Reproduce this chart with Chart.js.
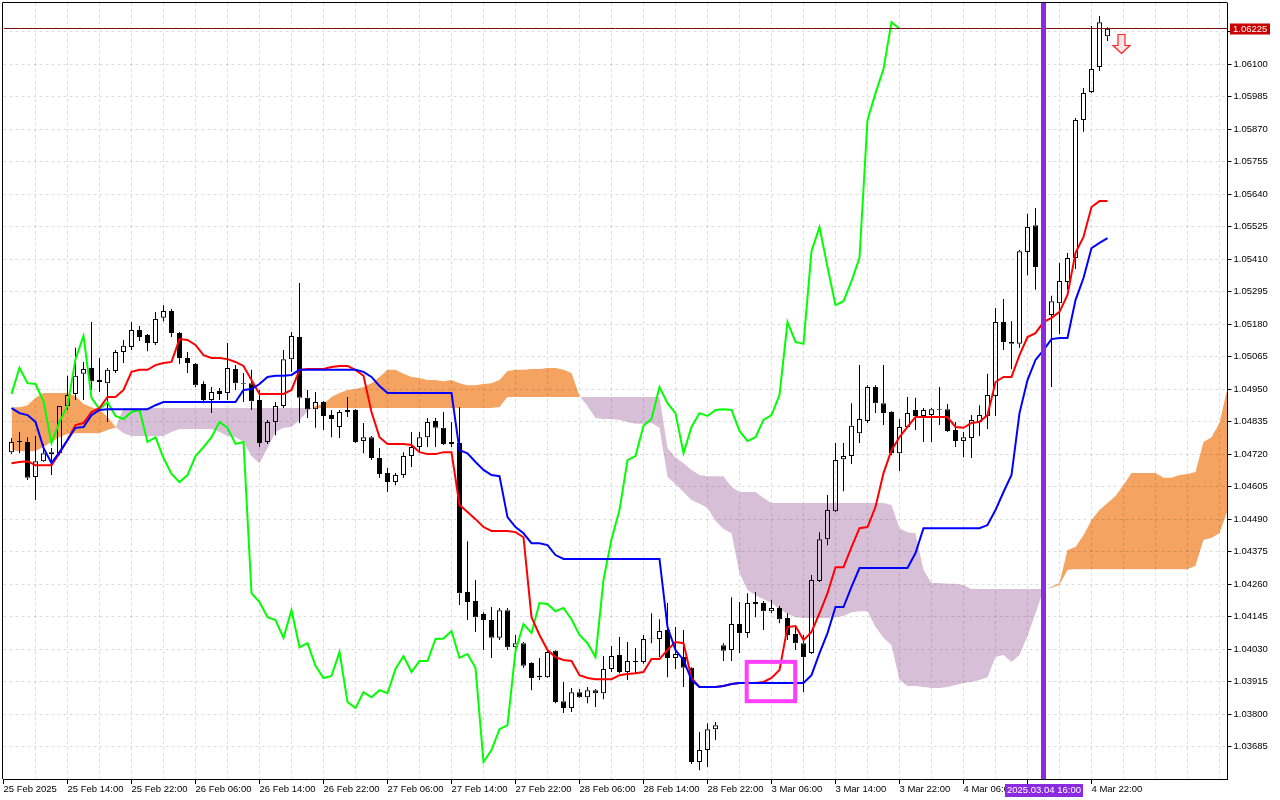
<!DOCTYPE html>
<html>
<head>
<meta charset="utf-8">
<title>EURUSD H1 - Ichimoku</title>
<script src="https://cdn.jsdelivr.net/npm/chart.js@4.4.1/dist/chart.umd.min.js"></script>
<style>
  html, body { margin: 0; padding: 0; background: #fff; }
  #wrap { width: 1280px; height: 800px; }
</style>
</head>
<body>
<div id="wrap"><canvas id="chart" width="1280" height="800"></canvas></div>
<script>
// hourly candles, bar 1 = 25 Feb 07:00 ... bar 138 = 5 Mar 00:00
const opens = [1.04727,1.04763,1.04763,1.04639,1.04695,1.04727,1.04723,1.04890,1.04933,1.05004,
  1.05025,1.04982,1.04971,1.05014,1.05081,1.05099,1.05159,1.05141,1.05113,1.05202,
  1.05226,1.05148,1.05060,1.05039,1.04968,1.04911,1.04943,1.04936,1.05021,1.04971,
  1.04971,1.04911,1.04763,1.04834,1.04890,1.05056,1.05134,1.04919,1.04879,1.04904,
  1.04858,1.04816,1.04869,1.04876,1.04766,1.04780,1.04706,1.04653,1.04621,1.04646,
  1.04713,1.04745,1.04780,1.04837,1.04813,1.04756,1.04759,1.04232,1.04200,1.04154,
  1.04133,1.04070,1.04168,1.04037,1.04051,1.03981,1.03931,1.03931,1.04024,1.03846,
  1.03822,1.03878,1.03860,1.03885,1.03874,1.03960,1.04009,1.03949,1.03985,1.03985,
  1.04066,1.04066,1.04098,1.03999,1.04002,1.03964,1.03631,1.03673,1.03747,1.04044,
  1.04027,1.04119,1.04087,1.04197,1.04193,1.04164,1.04176,1.04140,1.04084,1.04051,
  1.04016,1.04271,1.04419,1.04518,1.04702,1.04713,1.04794,1.04837,1.04957,1.04900,
  1.04869,1.04723,1.04816,1.04876,1.04855,1.04858,1.04879,1.04879,1.04805,1.04766,
  1.04777,1.04834,1.04855,1.04926,1.05187,1.05117,1.05110,1.05435,1.05530,1.05382,
  1.05212,1.05254,1.05329,1.05414,1.05902,1.06001,1.06089,1.06198];
const highs = [1.04777,1.04798,1.04780,1.04784,1.04756,1.04742,1.04890,1.04997,1.05096,1.05046,
  1.05187,1.05060,1.05025,1.05088,1.05124,1.05187,1.05173,1.05145,1.05223,1.05247,
  1.05233,1.05152,1.05081,1.05042,1.04978,1.04957,1.04954,1.05113,1.05035,1.05007,
  1.05018,1.04947,1.04841,1.04904,1.05088,1.05152,1.05325,1.04947,1.04940,1.04907,
  1.04876,1.04876,1.04922,1.04879,1.04830,1.04784,1.04742,1.04671,1.04653,1.04727,
  1.04798,1.04798,1.04848,1.04848,1.04869,1.04834,1.04886,1.04412,1.04275,1.04161,
  1.04179,1.04176,1.04176,1.04080,1.04055,1.03984,1.03999,1.04027,1.04027,1.03914,
  1.03893,1.03889,1.03896,1.03889,1.04006,1.04041,1.04073,1.04055,1.04034,1.04080,
  1.04157,1.04136,1.04193,1.04108,1.04098,1.03967,1.03737,1.03768,1.03772,1.04051,
  1.04214,1.04197,1.04228,1.04232,1.04200,1.04204,1.04183,1.04157,1.04108,1.04080,
  1.04292,1.04444,1.04575,1.04759,1.04759,1.04900,1.05035,1.04964,1.04964,1.05035,
  1.04872,1.04844,1.04922,1.04919,1.04883,1.04883,1.04957,1.04897,1.04834,1.04798,
  1.04858,1.04893,1.05004,1.05237,1.05269,1.05190,1.05442,1.05570,1.05591,1.05400,
  1.05280,1.05396,1.05431,1.05909,1.06015,1.06234,1.06270,1.06230];
const lows = [1.04720,1.04723,1.04628,1.04558,1.04692,1.04646,1.04716,1.04876,1.04911,1.04911,
  1.04947,1.04940,1.04834,1.05007,1.05042,1.05088,1.05120,1.05084,1.05106,1.05190,
  1.05134,1.05039,1.05007,1.04957,1.04900,1.04865,1.04911,1.04911,1.04947,1.04904,
  1.04876,1.04745,1.04756,1.04787,1.04883,1.05011,1.04830,1.04848,1.04813,1.04805,
  1.04780,1.04777,1.04851,1.04759,1.04723,1.04699,1.04636,1.04586,1.04610,1.04636,
  1.04674,1.04727,1.04745,1.04745,1.04752,1.04745,1.04186,1.04133,1.04091,1.04027,
  1.03999,1.04062,1.04027,1.04027,1.03964,1.03885,1.03921,1.03928,1.03839,1.03804,
  1.03808,1.03857,1.03839,1.03825,1.03853,1.03949,1.03945,1.03921,1.03945,1.03978,
  1.04051,1.04002,1.03931,1.03960,1.03896,1.03624,1.03602,1.03613,1.03709,1.03988,
  1.03988,1.04016,1.04070,1.04143,1.04098,1.04157,1.04122,1.04062,1.04027,1.03878,
  1.04013,1.04268,1.04398,1.04515,1.04589,1.04685,1.04759,1.04830,1.04865,1.04823,
  1.04716,1.04660,1.04813,1.04805,1.04763,1.04763,1.04823,1.04798,1.04745,1.04709,
  1.04706,1.04784,1.04809,1.04855,1.05088,1.05021,1.05096,1.05353,1.05301,1.05230,
  1.04957,1.05145,1.05301,1.05375,1.05860,1.05997,1.06075,1.06181];
const closes = [1.04763,1.04766,1.04636,1.04695,1.04723,1.04720,1.04890,1.04929,1.04997,1.05021,
  1.04978,1.04975,1.05018,1.05081,1.05103,1.05159,1.05134,1.05113,1.05198,1.05226,
  1.05148,1.05060,1.05042,1.04964,1.04911,1.04940,1.04933,1.05025,1.04971,1.04968,
  1.04907,1.04759,1.04834,1.04890,1.05056,1.05138,1.04919,1.04879,1.04904,1.04855,
  1.04844,1.04869,1.04876,1.04763,1.04780,1.04706,1.04650,1.04621,1.04646,1.04713,
  1.04745,1.04780,1.04834,1.04813,1.04756,1.04763,1.04228,1.04197,1.04143,1.04133,
  1.04070,1.04168,1.04037,1.04051,1.03971,1.03928,1.03935,1.04020,1.03843,1.03822,
  1.03878,1.03860,1.03885,1.03874,1.03960,1.04006,1.03949,1.03988,1.03988,1.04066,
  1.04068,1.04094,1.03999,1.04013,1.03964,1.03631,1.03673,1.03747,1.03761,1.04024,
  1.04119,1.04087,1.04193,1.04190,1.04164,1.04176,1.04136,1.04080,1.04051,1.04002,
  1.04275,1.04419,1.04522,1.04699,1.04713,1.04820,1.04844,1.04957,1.04900,1.04865,
  1.04723,1.04816,1.04865,1.04855,1.04876,1.04879,1.04876,1.04802,1.04766,1.04780,
  1.04841,1.04858,1.04929,1.05187,1.05117,1.05110,1.05438,1.05523,1.05382,1.05247,
  1.05261,1.05332,1.05414,1.05902,1.05997,1.06082,1.06248,1.06225];

// Ichimoku lines
const tenkan = [1.04688,1.04692,1.04695,1.04681,1.04681,1.04681,1.04723,1.04770,1.04823,1.04830,
  1.04869,1.04883,1.04922,1.04922,1.04947,1.05011,1.05018,1.05018,1.05035,1.05042,
  1.05046,1.05127,1.05124,1.05106,1.05070,1.05060,1.05060,1.05056,1.05046,1.05032,
  1.04982,1.04933,1.04933,1.04933,1.04933,1.04947,1.05018,1.05021,1.05021,1.05021,
  1.05028,1.05032,1.05032,1.05018,1.04997,1.04869,1.04780,1.04756,1.04756,1.04756,
  1.04752,1.04727,1.04720,1.04720,1.04727,1.04727,1.04540,1.04515,1.04490,1.04462,
  1.04448,1.04448,1.04448,1.04444,1.04426,1.04143,1.04080,1.04027,1.04002,1.03992,
  1.03988,1.03938,1.03928,1.03924,1.03924,1.03924,1.03938,1.03942,1.03945,1.03949,
  1.03995,1.03995,1.04027,1.04055,1.04051,1.03928,1.03896,1.03896,1.03896,1.03900,
  1.03907,1.03910,1.03910,1.03910,1.03914,1.03928,1.03956,1.04108,1.04112,1.04062,
  1.04091,1.04157,1.04228,1.04320,1.04320,1.04391,1.04458,1.04462,1.04533,1.04653,
  1.04734,1.04780,1.04816,1.04851,1.04851,1.04851,1.04851,1.04851,1.04816,1.04813,
  1.04830,1.04834,1.04858,1.04975,1.04993,1.04993,1.05070,1.05134,1.05148,1.05187,
  1.05202,1.05223,1.05283,1.05432,1.05488,1.05594,1.05615,1.05615];
const kijun = [1.04883,1.04865,1.04858,1.04834,1.04742,1.04688,1.04727,1.04770,1.04813,1.04816,
  1.04858,1.04876,1.04879,1.04879,1.04879,1.04879,1.04879,1.04879,1.04893,1.04904,
  1.04904,1.04904,1.04904,1.04904,1.04904,1.04904,1.04904,1.04904,1.04904,1.04947,
  1.04950,1.04968,1.04993,1.04997,1.04997,1.05000,1.05018,1.05018,1.05018,1.05018,
  1.05018,1.05018,1.05018,1.05018,1.05011,1.04993,1.04961,1.04936,1.04936,1.04936,
  1.04936,1.04936,1.04936,1.04936,1.04936,1.04936,1.04734,1.04723,1.04692,1.04664,
  1.04646,1.04642,1.04497,1.04462,1.04440,1.04405,1.04405,1.04398,1.04363,1.04349,
  1.04349,1.04349,1.04349,1.04349,1.04349,1.04349,1.04349,1.04349,1.04349,1.04349,
  1.04349,1.04349,1.04108,1.04027,1.03992,1.03921,1.03896,1.03896,1.03896,1.03900,
  1.03907,1.03910,1.03910,1.03910,1.03910,1.03910,1.03910,1.03910,1.03910,1.03910,
  1.03938,1.04016,1.04087,1.04179,1.04179,1.04250,1.04317,1.04317,1.04317,1.04317,
  1.04317,1.04317,1.04317,1.04370,1.04458,1.04458,1.04458,1.04458,1.04458,1.04458,
  1.04458,1.04458,1.04469,1.04522,1.04586,1.04646,1.04865,1.04982,1.05053,1.05088,
  1.05127,1.05131,1.05131,1.05265,1.05343,1.05449,1.05467,1.05484];
const chikou = [1.04933,1.05025,1.04971,1.04968,1.04907,1.04759,1.04834,1.04890,1.05056,1.05138,
  1.04919,1.04879,1.04904,1.04855,1.04844,1.04869,1.04876,1.04763,1.04780,1.04706,
  1.04650,1.04621,1.04646,1.04713,1.04745,1.04780,1.04834,1.04813,1.04756,1.04763,
  1.04228,1.04197,1.04143,1.04133,1.04070,1.04168,1.04037,1.04051,1.03971,1.03928,
  1.03935,1.04020,1.03843,1.03822,1.03878,1.03860,1.03885,1.03874,1.03960,1.04006,
  1.03949,1.03988,1.03988,1.04066,1.04068,1.04094,1.03999,1.04013,1.03964,1.03631,
  1.03673,1.03747,1.03761,1.04024,1.04119,1.04087,1.04193,1.04190,1.04164,1.04176,
  1.04136,1.04080,1.04051,1.04002,1.04275,1.04419,1.04522,1.04699,1.04713,1.04820,
  1.04844,1.04957,1.04900,1.04865,1.04723,1.04816,1.04865,1.04855,1.04876,1.04879,
  1.04876,1.04802,1.04766,1.04780,1.04841,1.04858,1.04929,1.05187,1.05117,1.05110,
  1.05438,1.05523,1.05382,1.05247,1.05261,1.05332,1.05414,1.05902,1.05997,1.06082,
  1.06248,1.06225];
const spanA = [1.04886,1.04886,1.04893,1.04919,1.04936,1.04936,1.04936,1.04936,1.04926,1.04897,
  1.04886,1.04879,1.04851,1.04816,1.04794,1.04784,1.04784,1.04784,1.04784,1.04784,
  1.04798,1.04809,1.04809,1.04809,1.04809,1.04809,1.04798,1.04784,1.04780,1.04763,
  1.04713,1.04688,1.04742,1.04798,1.04813,1.04816,1.04841,1.04872,1.04890,1.04897,
  1.04922,1.04936,1.04947,1.04950,1.04957,1.04971,1.04993,1.05018,1.05018,1.05004,
  1.04993,1.04989,1.04982,1.04982,1.04978,1.04982,1.04971,1.04964,1.04964,1.04968,
  1.04971,1.04982,1.05014,1.05018,1.05018,1.05021,1.05021,1.05025,1.05025,1.05018,
  1.05007,1.04926,1.04890,1.04848,1.04844,1.04844,1.04841,1.04834,1.04827,1.04827,
  1.04830,1.04813,1.04639,1.04614,1.04586,1.04558,1.04544,1.04530,1.04483,1.04455,
  1.04440,1.04299,1.04239,1.04221,1.04207,1.04193,1.04172,1.04154,1.04143,1.04140,
  1.04140,1.04140,1.04140,1.04143,1.04147,1.04161,1.04164,1.04164,1.04108,1.04070,
  1.04044,1.03921,1.03900,1.03900,1.03896,1.03893,1.03893,1.03896,1.03903,1.03910,
  1.03914,1.03921,1.03931,1.04002,1.04009,1.03985,1.04009,1.04077,1.04157,1.04239,
  1.04250,1.04264,1.04381,1.04391,1.04433,1.04487,1.04522,1.04547,1.04572,1.04611,
  1.04653,1.04653,1.04653,1.04653,1.04636,1.04636,1.04646,1.04650,1.04657,1.04763,
  1.04780,1.04830,1.04954];
const spanB = [1.04734,1.04730,1.04730,1.04730,1.04745,1.04763,1.04780,1.04791,1.04794,1.04794,
  1.04794,1.04794,1.04805,1.04813,1.04883,1.04883,1.04883,1.04883,1.04883,1.04883,
  1.04883,1.04883,1.04883,1.04883,1.04883,1.04883,1.04883,1.04883,1.04883,1.04883,
  1.04883,1.04883,1.04883,1.04883,1.04883,1.04883,1.04883,1.04883,1.04883,1.04883,
  1.04883,1.04883,1.04883,1.04883,1.04883,1.04883,1.04883,1.04883,1.04883,1.04883,
  1.04883,1.04883,1.04883,1.04883,1.04883,1.04883,1.04883,1.04883,1.04883,1.04883,
  1.04883,1.04886,1.04922,1.04922,1.04922,1.04922,1.04922,1.04922,1.04922,1.04922,
  1.04922,1.04922,1.04922,1.04922,1.04922,1.04922,1.04922,1.04922,1.04922,1.04922,
  1.04922,1.04922,1.04742,1.04709,1.04688,1.04664,1.04646,1.04642,1.04642,1.04642,
  1.04604,1.04586,1.04586,1.04586,1.04565,1.04547,1.04547,1.04547,1.04547,1.04547,
  1.04547,1.04547,1.04547,1.04547,1.04547,1.04547,1.04547,1.04547,1.04547,1.04547,
  1.04540,1.04458,1.04444,1.04440,1.04310,1.04264,1.04264,1.04261,1.04261,1.04257,
  1.04243,1.04243,1.04243,1.04243,1.04243,1.04243,1.04243,1.04243,1.04243,1.04243,
  1.04246,1.04257,1.04310,1.04313,1.04313,1.04313,1.04313,1.04313,1.04313,1.04313,
  1.04313,1.04313,1.04313,1.04313,1.04313,1.04313,1.04313,1.04313,1.04324,1.04416,
  1.04423,1.04440,1.04518];

// axis labels
const timeLabels = ['25 Feb 2025', '25 Feb 14:00', '25 Feb 22:00', '26 Feb 06:00', '26 Feb 14:00',
  '26 Feb 22:00', '27 Feb 06:00', '27 Feb 14:00', '27 Feb 22:00', '28 Feb 06:00', '28 Feb 14:00',
  '28 Feb 22:00', '3 Mar 06:00', '3 Mar 14:00', '3 Mar 22:00', '4 Mar 06:00', '4 Mar 14:00', '4 Mar 22:00'];
const priceTicks = [1.03685, 1.03800, 1.03915, 1.04030, 1.04145, 1.04260, 1.04375, 1.04490,
  1.04605, 1.04720, 1.04835, 1.04950, 1.05065, 1.05180, 1.05295, 1.05410, 1.05525, 1.05640,
  1.05755, 1.05870, 1.05985, 1.06100, 1.06215];

const lastPrice = 1.06225;
const markerBar = 130;
const markerText = '2025.03.04 16:00';
// user drawn box and sell arrow (bar index / price)
const boxBars = [92.9, 98.96];
const boxPrices = [1.03985, 1.03846];
const arrowBar = 139.8;
const arrowPrice = 1.06206;

const N = 154; // bars on screen incl. the cloud shifted forward
const FONT = { family: 'Liberation Sans, Arial, sans-serif', size: 9.5 };

function pad(arr, fill) {
  const out = new Array(N).fill(fill === undefined ? null : fill);
  arr.forEach(function (v, k) { out[k + 1] = v; });
  return out;
}

const labels = Array.from({ length: N }, function (_, i) {
  return (i % 8 === 0 && timeLabels[i / 8]) || '';
});

const bodies = pad(opens.map(function (o, k) { return [o, closes[k]]; }));
const upperWicks = pad(highs.map(function (h, k) { return [Math.max(opens[k], closes[k]), h]; }));
const lowerWicks = pad(lows.map(function (l, k) { return [l, Math.min(opens[k], closes[k])]; }));
const bodyColors = pad(opens.map(function (o, k) {
  return closes[k] >= o ? 'rgba(0,0,0,0)' : '#000000';
}), 'rgba(0,0,0,0)');

function drawGrid(chart) {
  const { ctx, chartArea: a, scales: { x, y } } = chart;
  ctx.save();
  ctx.strokeStyle = 'rgba(0,0,0,0.13)';
  ctx.lineWidth = 1;
  ctx.setLineDash([3, 3]);
  ctx.beginPath();
  for (let i = 4; i < N; i += 4) {
    const px = Math.floor(x.getPixelForValue(i)) + 0.5;
    ctx.moveTo(px, a.top);
    ctx.lineTo(px, a.bottom);
  }
  priceTicks.forEach(function (v) {
    const py = Math.floor(y.getPixelForValue(v)) + 0.5;
    ctx.moveTo(a.left, py);
    ctx.lineTo(a.right, py);
  });
  ctx.stroke();
  ctx.restore();
}

const overlay = {
  id: 'overlay',
  afterDatasetDraw(chart, args) {
    // grid sits on top of the cloud but under the candles
    if (args.index === 1) drawGrid(chart);
  },
  afterDatasetsDraw(chart) {
    const { ctx, chartArea: a, scales: { x, y } } = chart;
    ctx.save();
    ctx.beginPath();
    ctx.rect(a.left, a.top, a.right - a.left, a.bottom - a.top);
    ctx.clip();

    // last price line
    const py = Math.floor(y.getPixelForValue(lastPrice)) + 0.5;
    ctx.strokeStyle = '#7A1414';
    ctx.lineWidth = 1;
    ctx.beginPath();
    ctx.moveTo(a.left, py);
    ctx.lineTo(a.right, py);
    ctx.stroke();

    // magenta rectangle
    const rx1 = x.getPixelForValue(boxBars[0]);
    const rx2 = x.getPixelForValue(boxBars[1]);
    const ry1 = y.getPixelForValue(boxPrices[0]);
    const ry2 = y.getPixelForValue(boxPrices[1]);
    ctx.strokeStyle = '#FF40FF';
    ctx.lineWidth = 4;
    ctx.strokeRect(rx1, ry1, rx2 - rx1, ry2 - ry1);

    // sell arrow
    const ax = Math.floor(x.getPixelForValue(arrowBar)) + 0.5;
    const ay = Math.floor(y.getPixelForValue(arrowPrice)) + 0.5;
    ctx.beginPath();
    ctx.moveTo(ax - 3.5, ay);
    ctx.lineTo(ax + 3.5, ay);
    ctx.lineTo(ax + 3.5, ay + 11);
    ctx.lineTo(ax + 8.5, ay + 11);
    ctx.lineTo(ax, ay + 19);
    ctx.lineTo(ax - 8.5, ay + 11);
    ctx.lineTo(ax - 3.5, ay + 11);
    ctx.closePath();
    ctx.fillStyle = '#FFE6E6';
    ctx.fill();
    ctx.strokeStyle = '#FF2020';
    ctx.lineWidth = 1.2;
    ctx.stroke();

    // vertical marker line
    const mx = x.getPixelForValue(markerBar);
    ctx.strokeStyle = '#8A2BE2';
    ctx.lineWidth = 5;
    ctx.beginPath();
    ctx.moveTo(mx, a.top);
    ctx.lineTo(mx, a.bottom);
    ctx.stroke();
    ctx.restore();

    // frame (left and top; right/bottom come from the axes)
    ctx.save();
    ctx.strokeStyle = '#000';
    ctx.lineWidth = 1;
    ctx.beginPath();
    ctx.moveTo(2.5, a.bottom);
    ctx.lineTo(2.5, a.top - 0.5);
    ctx.lineTo(a.right, a.top - 0.5);
    ctx.stroke();
    ctx.restore();
  },
  afterDraw(chart) {
    const { ctx, chartArea: a, scales: { x, y } } = chart;
    ctx.save();
    ctx.font = FONT.size + 'px ' + FONT.family;
    ctx.textBaseline = 'middle';

    // price tag on the right axis
    const py = Math.round(y.getPixelForValue(lastPrice));
    ctx.fillStyle = '#C80000';
    ctx.fillRect(Math.round(a.right) + 2, py - 5.5, 40, 11);
    ctx.fillStyle = '#FFFFFF';
    ctx.textAlign = 'left';
    ctx.fillText(lastPrice.toFixed(5), Math.round(a.right) + 5, py + 0.5);

    // date tag under the marker line
    const mx = Math.round(x.getPixelForValue(markerBar));
    ctx.fillStyle = '#8A2BE2';
    ctx.fillRect(mx - 39, a.bottom + 5, 78, 13);
    ctx.fillStyle = '#FFFFFF';
    ctx.textAlign = 'center';
    ctx.fillText(markerText, mx, a.bottom + 11.5);
    ctx.restore();
  }
};

function noPad(s) {
  s.paddingTop = 0;
  s.paddingBottom = 0;
  s.paddingLeft = 0;
  s.paddingRight = 0;
}

const ctx = document.getElementById('chart').getContext('2d');

const chart = new Chart(ctx, {
  type: 'line',
  data: {
    labels: labels,
    datasets: [
      {
        label: 'Senkou Span B',
        data: pad(spanB),
        borderWidth: 0,
        borderColor: 'rgba(0,0,0,0)',
        pointRadius: 0,
        fill: false,
        order: 10,
      },
      {
        label: 'Senkou Span A',
        data: pad(spanA),
        borderWidth: 0,
        borderColor: 'rgba(0,0,0,0)',
        pointRadius: 0,
        fill: { target: '-1', above: '#F4A460', below: '#D8BFD8' },
        order: 9,
      },
      {
        type: 'bar',
        label: 'upper wicks',
        data: upperWicks,
        backgroundColor: '#000000',
        borderWidth: 0,
        barThickness: 1,
        inflateAmount: 0,
        grouped: false,
        order: 7,
      },
      {
        type: 'bar',
        label: 'lower wicks',
        data: lowerWicks,
        backgroundColor: '#000000',
        borderWidth: 0,
        barThickness: 1,
        inflateAmount: 0,
        grouped: false,
        order: 6,
      },
      {
        type: 'bar',
        label: 'bodies',
        data: bodies,
        backgroundColor: bodyColors,
        borderColor: '#000000',
        borderWidth: 1,
        borderSkipped: false,
        barThickness: 5,
        inflateAmount: 0,
        grouped: false,
        order: 5,
      },
      {
        label: 'Chikou Span',
        data: pad(chikou),
        borderColor: '#00FF00',
        borderWidth: 2,
        pointRadius: 0,
        fill: false,
        order: 3,
      },
      {
        label: 'Tenkan-sen',
        data: pad(tenkan),
        borderColor: '#FF0000',
        borderWidth: 2,
        pointRadius: 0,
        fill: false,
        order: 2,
      },
      {
        label: 'Kijun-sen',
        data: pad(kijun),
        borderColor: '#0000FF',
        borderWidth: 2,
        pointRadius: 0,
        fill: false,
        order: 1,
      },
    ],
  },
  options: {
    responsive: false,
    animation: false,
    devicePixelRatio: 1,
    layout: { padding: { left: 3.5, top: 3, right: 0, bottom: 0 } },
    plugins: {
      legend: { display: false },
      tooltip: { enabled: false },
    },
    scales: {
      x: {
        type: 'category',
        offset: false,
        grid: {
          offset: false,
          drawOnChartArea: false,
          drawTicks: true,
          tickLength: 5,
          tickColor: function (c) { return labels[c.index] ? '#000' : 'rgba(0,0,0,0)'; },
        },
        border: { display: true, color: '#000', width: 1 },
        ticks: {
          autoSkip: false,
          maxRotation: 0,
          minRotation: 0,
          align: 'start',
          padding: 0,
          color: '#000',
          font: FONT,
        },
        afterFit: function (s) { s.height = 21; noPad(s); },
      },
      y: {
        type: 'linear',
        position: 'right',
        min: 1.035707,
        max: 1.063158,
        afterBuildTicks: function (s) {
          s.ticks = priceTicks.map(function (v) { return { value: v }; });
        },
        grid: {
          drawOnChartArea: false,
          drawTicks: true,
          tickLength: 4,
          tickColor: '#000',
        },
        border: { display: true, color: '#000', width: 1 },
        ticks: {
          padding: 2,
          color: '#000',
          font: FONT,
          callback: function (v) { return Number(v).toFixed(5); },
        },
        afterFit: function (s) { s.width = 52.5; noPad(s); },
      },
    },
  },
  plugins: [overlay],
});
</script>
</body>
</html>
